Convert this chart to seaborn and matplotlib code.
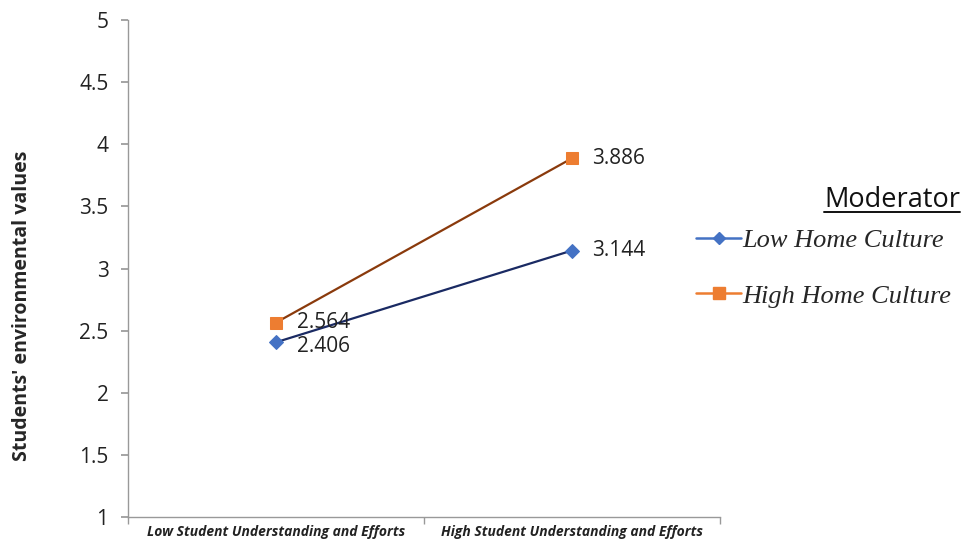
import matplotlib
matplotlib.use("Agg")
import matplotlib.pyplot as plt
import seaborn as sns
import pandas as pd
from matplotlib.lines import Line2D

categories = ["Low Student Understanding and Efforts", "High Student Understanding and Efforts"]
series_names = ["Low Home Culture", "High Home Culture"]
low_home = [2.406, 3.144]
high_home = [2.564, 3.886]
y_ticks = [1, 1.5, 2, 2.5, 3, 3.5, 4, 4.5, 5]

line_colors = {"Low Home Culture": "#1a2a63", "High Home Culture": "#8a3a0c"}
marker_colors = {"Low Home Culture": "#4472C4", "High Home Culture": "#ED7D31"}
markers = {"Low Home Culture": "D", "High Home Culture": "s"}

rows = []
for name, vals in zip(series_names, [low_home, high_home]):
    for i, v in enumerate(vals):
        rows.append({"x": i + 0.5, "y": v, "series": name})
df = pd.DataFrame(rows)

sns.set_theme(style="white")
plt.rcParams["font.family"] = ["Open Sans", "DejaVu Sans"]

fig = plt.figure(figsize=(9.62, 5.43), dpi=100)
ax = fig.add_axes([0.133, 0.048, 0.615, 0.915])

sns.lineplot(data=df, x="x", y="y", hue="series", style="series",
             palette=line_colors, markers=markers, dashes=False,
             hue_order=series_names, style_order=series_names,
             linewidth=1.6, markersize=8, ax=ax, legend=False)

for ln, name in zip(ax.get_lines(), series_names):
    ln.set_markerfacecolor(marker_colors[name])
    ln.set_markeredgecolor(marker_colors[name])
    ms = 7 if markers[name] == "D" else 8.5
    ln.set_markersize(ms)

ax.set_xlim(0, 2)
ax.set_ylim(1, 5)
ax.set_yticks(y_ticks)
ax.set_yticklabels([f"{t:g}" for t in y_ticks], fontsize=15, color="#222222")
ax.set_xticks([0.5, 1.5])
ax.set_xticklabels(categories, fontsize=10, fontweight="bold", fontstyle="italic", color="#222222")
ax.set_xticks([0, 1, 2], minor=True)
ax.tick_params(axis="x", which="major", length=0, pad=6)
ax.tick_params(axis="x", which="minor", length=5, color="#999999", direction="out", bottom=True)
ax.tick_params(axis="y", which="major", length=5, color="#999999", direction="out", left=True, pad=9)
ax.set_xlabel("")
ax.set_ylabel("Students' environmental values", fontsize=14, fontweight="bold", labelpad=34, y=0.424)

for s in ["top", "right"]:
    ax.spines[s].set_visible(False)
for s in ["left", "bottom"]:
    ax.spines[s].set_color("#999999")
    ax.spines[s].set_linewidth(1.0)

# data labels
for name, vals in zip(series_names, [low_home, high_home]):
    for i, v in enumerate(vals):
        dy = -3 if (name == "Low Home Culture" and i == 0) else 0
        ax.annotate(f"{v:.3f}", (i + 0.5, v), xytext=(15, dy), textcoords="offset points",
                    ha="left", va="center", fontsize=15, color="#222222")

# legend
handles = [Line2D([0], [0], color=marker_colors[n], marker=markers[n], markersize=8 if markers[n] == "s" else 6.5,
                  markerfacecolor=marker_colors[n], markeredgecolor=marker_colors[n], linewidth=1.8)
           for n in series_names]
leg = fig.legend(handles, series_names, loc="upper left", bbox_to_anchor=(0.699, 0.622),
                 frameon=False, handlelength=1.7, handletextpad=0.05, labelspacing=1.2,
                 prop={"family": "Liberation Serif", "style": "italic", "size": 19})

t = fig.text(0.998, 0.632, "Moderator", ha="right", va="center", fontsize=19.5, color="#111111")
fig.canvas.draw()
bb = t.get_window_extent(fig.canvas.get_renderer()).transformed(fig.transFigure.inverted())
fig.add_artist(Line2D([bb.x0, bb.x1], [bb.y0 + 0.004, bb.y0 + 0.004], transform=fig.transFigure,
                      color="#111111", linewidth=1.4))

fig.savefig("out.png", dpi=100)
